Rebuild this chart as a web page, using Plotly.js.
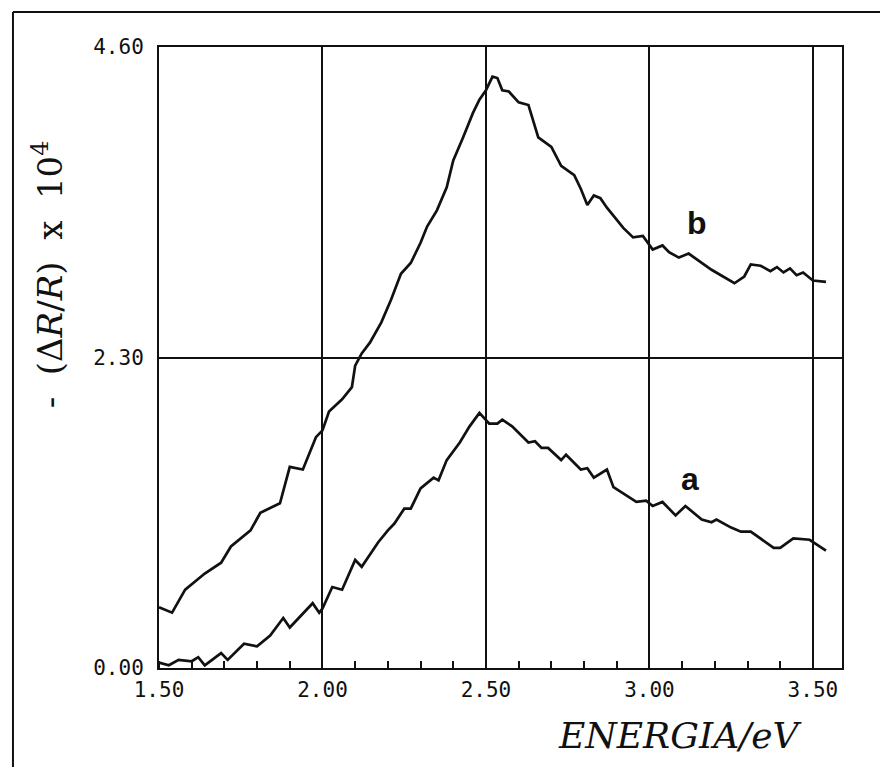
<!DOCTYPE html>
<html>
<head>
<meta charset="utf-8">
<script src="https://cdn.plot.ly/plotly-3.0.1.min.js"></script>
<style>html,body{margin:0;padding:0;background:#fff;}#chart{width:880px;height:767px;}</style>
</head>
<body>
<div id="chart"></div>
<script>
// Curve b (upper)
const bEnergy = [1.50,1.54,1.58,1.64,1.69,1.72,1.78,1.81,1.87,1.90,1.94,1.98,2.00,2.02,2.06,2.09,2.10,2.12,2.145,2.18,2.21,2.24,2.27,2.30,2.32,2.35,2.38,2.40,2.43,2.46,2.48,2.50,2.52,2.535,2.55,2.57,2.60,2.63,2.66,2.70,2.73,2.77,2.79,2.81,2.83,2.85,2.87,2.92,2.95,2.98,3.01,3.04,3.06,3.09,3.12,3.15,3.19,3.26,3.29,3.31,3.34,3.37,3.39,3.41,3.43,3.45,3.47,3.50,3.54];
const bSignal = [0.45,0.41,0.58,0.70,0.78,0.90,1.02,1.15,1.22,1.49,1.47,1.71,1.76,1.90,1.99,2.08,2.24,2.33,2.41,2.56,2.73,2.92,3.00,3.15,3.27,3.39,3.56,3.76,3.93,4.11,4.21,4.28,4.38,4.37,4.28,4.27,4.19,4.17,3.93,3.86,3.72,3.65,3.55,3.43,3.50,3.48,3.41,3.26,3.19,3.20,3.10,3.13,3.08,3.04,3.07,3.02,2.95,2.85,2.90,2.99,2.98,2.94,2.97,2.93,2.96,2.91,2.93,2.87,2.86];
// Curve a (lower)
const aEnergy = [1.50,1.53,1.56,1.60,1.62,1.64,1.69,1.71,1.76,1.80,1.84,1.88,1.90,1.97,1.99,2.00,2.03,2.06,2.10,2.12,2.17,2.20,2.22,2.25,2.27,2.30,2.34,2.355,2.38,2.42,2.45,2.48,2.51,2.535,2.55,2.58,2.63,2.65,2.67,2.69,2.73,2.745,2.79,2.81,2.83,2.87,2.89,2.96,2.99,3.01,3.04,3.08,3.11,3.16,3.19,3.205,3.25,3.28,3.31,3.38,3.40,3.44,3.49,3.54];
const aSignal = [0.04,0.02,0.06,0.05,0.08,0.02,0.11,0.06,0.18,0.16,0.24,0.37,0.30,0.48,0.41,0.44,0.60,0.58,0.80,0.75,0.93,1.02,1.07,1.18,1.18,1.33,1.41,1.39,1.54,1.67,1.79,1.89,1.81,1.81,1.84,1.79,1.67,1.68,1.63,1.63,1.54,1.58,1.47,1.48,1.41,1.47,1.34,1.23,1.24,1.20,1.23,1.13,1.20,1.10,1.08,1.10,1.04,1.01,1.01,0.89,0.89,0.96,0.95,0.87];

const xTickVals = [1.5, 2.0, 2.5, 3.0, 3.5];
const xTickText = ["1.50", "2.00", "2.50", "3.00", "3.50"];
const yTickVals = [0, 2.3, 4.6];
const yTickText = ["0.00", "2.30", "4.60"];
const curveLabels = ["a", "b"];
const xTitle = "<i>ENERGIA/eV</i>";
const yTitle = "-\u00A0\u00A0(Δ<i>R</i>/<i>R</i>)\u00A0\u00A0x\u00A0\u00A010<sup>4</sup>";

const serifFont = "DejaVu Serif, serif";
const lineStyle = {color: "#111", width: 2.7};
const traces = [
  {x: aEnergy, y: aSignal, mode: "lines", line: lineStyle, name: "a", hoverinfo: "skip"},
  {x: bEnergy, y: bSignal, mode: "lines", line: lineStyle, name: "b", hoverinfo: "skip"}
];

const monoFont = {family: "DejaVu Sans Mono, monospace", size: 21, color: "#111"};

const layout = {
  width: 880, height: 767,
  margin: {l: 159, r: 38, t: 47, b: 99},
  paper_bgcolor: "#fff", plot_bgcolor: "#fff",
  showlegend: false,
  xaxis: {
    range: [1.5, 3.589], showline: true, mirror: true, linecolor: "#111", linewidth: 2,
    tickmode: "array", tickvals: xTickVals, ticktext: xTickText, ticks: "",
    showgrid: true, gridcolor: "#111", gridwidth: 2, zeroline: false,
    tickfont: monoFont, ticklabelstandoff: 2,
    minor: {tick0: 1.5, dtick: 0.1, ticks: "inside", ticklen: 7, tickwidth: 2, tickcolor: "#111", showgrid: false}
  },
  yaxis: {
    range: [0, 4.6], showline: true, mirror: true, linecolor: "#111", linewidth: 2,
    tickmode: "array", tickvals: yTickVals, ticktext: yTickText, ticks: "",
    showgrid: true, gridcolor: "#111", gridwidth: 2, zeroline: false,
    tickfont: monoFont, ticklabelstandoff: 9
  },
  annotations: [
    {x: 3.125, y: 1.40, xref: "x", yref: "y", text: curveLabels[0], showarrow: false,
     font: {family: "Liberation Sans, Arial, sans-serif", size: 32, color: "#111", weight: "bold"}},
    {x: 3.144, y: 3.30, xref: "x", yref: "y", text: curveLabels[1], showarrow: false,
     font: {family: "Liberation Sans, Arial, sans-serif", size: 32, color: "#111", weight: "bold"}},
    {x: 0.764, y: -0.108, xref: "paper", yref: "paper", text: xTitle, showarrow: false,
     xanchor: "center", yanchor: "middle",
     font: {family: serifFont, size: 36, color: "#111"}},
    {x: -0.1625, y: 0.634, xref: "paper", yref: "paper", text: yTitle, showarrow: false,
     textangle: -90, xanchor: "center", yanchor: "middle",
     font: {family: serifFont, size: 34, color: "#111"}}
  ],
  shapes: [
    {type: "line", xref: "paper", yref: "paper", x0: -0.2138, x1: -0.2138, y0: 1.0564, y1: -0.16, line: {color: "#111", width: 2}},
    {type: "line", xref: "paper", yref: "paper", x0: -0.2138, x1: 1.06, y0: 1.0564, y1: 1.0564, line: {color: "#111", width: 2}}
  ]
};

Plotly.newPlot("chart", traces, layout, {staticPlot: true, displayModeBar: false});
</script>
</body>
</html>
